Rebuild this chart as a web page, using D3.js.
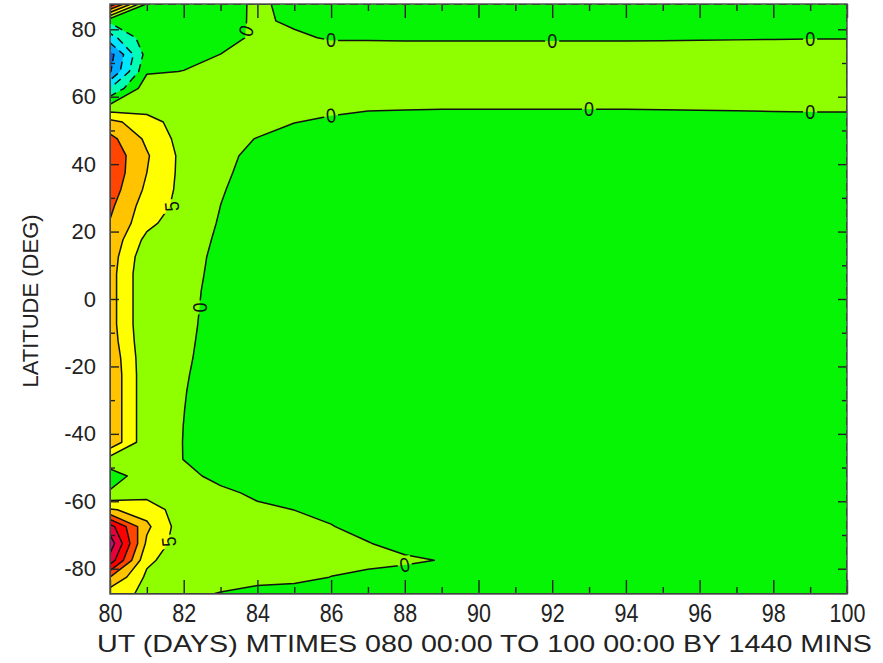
<!DOCTYPE html>
<html><head><meta charset="utf-8">
<script src="https://cdn.jsdelivr.net/npm/d3@7"></script>
<style>body{margin:0;background:#fff;} svg{display:block;}</style>
</head><body>
<svg id="chart" width="883" height="663"></svg>
<script>
// ---- data ----
const days = [80,81,82,83,84,85,86,87,88,89,90,91,92,93,94,95,96,97,98,99,100];
const lats = [87.5,82.5,77.5,72.5,67.5,62.5,57.5,52.5,47.5,42.5,37.5,32.5,27.5,22.5,17.5,12.5,7.5,2.5,
              -2.5,-7.5,-12.5,-17.5,-22.5,-27.5,-32.5,-37.5,-42.5,-47.5,-52.5,-57.5,-62.5,-67.5,-72.5,-77.5,-82.5,-87.5];
// one row per latitude (north to south), one value per day 80..100
const values = [
 [24,-0.5,-2,-1.5,0.6,-1,-2,-2,-2,-2,-2,-2,-2,-2,-2,-2,-2,-2,-2,-2,-2],
 [-4,-1.5,-1.5,-1.2,0.5,-0.5,-1.5,-1.5,-1.5,-1.5,-1.5,-1.5,-1.5,-1.5,-1.5,-1.5,-1.5,-1.5,-1.5,-1.5,-1.5],
 [-12,-2,-1.8,-2,1,0.5,-0.3,-0.3,-0.4,-0.4,-0.4,-0.4,-0.4,-0.4,-0.4,-0.35,-0.3,-0.25,-0.2,-0.15,-0.15],
 [-22,-3,-1.5,0.05,2,2,1.6,1.6,1.6,1.6,1.6,1.6,1.6,1.6,1.6,1.65,1.7,1.7,1.75,1.8,1.8],
 [-20.5,-0.6,0.1,1.5,2.5,2.8,2.8,2.8,2.8,2.8,2.8,2.8,2.8,2.8,2.8,2.8,2.8,2.8,2.8,2.8,2.8],
 [-10,3,2.5,2.5,3,3,3,3,3,3,3,3,3,3,3,3,3,3,3,3,3],
 [0.5,2.5,2.5,2.5,2.5,1,0.5,0.7,0.8,0.8,0.8,0.8,0.8,0.8,0.8,0.75,0.7,0.65,0.6,0.6,0.6],
 [11.5,7,2.5,2,1,0.05,-0.3,-1.3,-2,-2.5,-2.5,-2.5,-2.5,-2.5,-2.5,-2,-1.6,-1.3,-1,-0.85,-0.85],
 [16.5,9,3,1,-0.1,-0.8,-1.5,-2.5,-3,-3,-3,-3,-3,-3,-3,-3,-3,-3,-3,-3,-3],
 [18.5,10.5,3.5,1,-1,-1.8,-2.2,-2.5,-3,-3,-3,-3,-3,-3,-3,-3,-3,-3,-3,-3,-3],
 [18.5,10,3.5,0.6,-1.2,-2,-2.5,-3,-3,-3,-3,-3,-3,-3,-3,-3,-3,-3,-3,-3,-3],
 [17.5,9,3.5,0.25,-1.4,-2,-2.5,-3,-3,-3,-3,-3,-3,-3,-3,-3,-3,-3,-3,-3,-3],
 [16,7.5,3.5,-0.02,-1.5,-2,-2.5,-3,-3,-3,-3,-3,-3,-3,-3,-3,-3,-3,-3,-3,-3],
 [14.7,6.5,1.5,-0.2,-1.6,-2,-2.5,-3,-3,-3,-3,-3,-3,-3,-3,-3,-3,-3,-3,-3,-3],
 [13.5,3.5,1.2,-0.4,-1.7,-2.2,-2.5,-3,-3,-3,-3,-3,-3,-3,-3,-3,-3,-3,-3,-3,-3],
 [12.5,1.5,1,-0.6,-1.8,-2.2,-2.5,-3,-3,-3,-3,-3,-3,-3,-3,-3,-3,-3,-3,-3,-3],
 [12,0.8,1,-0.8,-1.9,-2.3,-2.5,-3,-3,-3,-3,-3,-3,-3,-3,-3,-3,-3,-3,-3,-3],
 [12,0.8,1,-1.1,-2,-2.3,-2.5,-3,-3,-3,-3,-3,-3,-3,-3,-3,-3,-3,-3,-3,-3],
 [12,0.8,0.9,-1.2,-2,-2.3,-2.5,-3,-3,-3,-3,-3,-3,-3,-3,-3,-3,-3,-3,-3,-3],
 [12,0.8,0.8,-1.3,-2,-2.3,-2.5,-3,-3,-3,-3,-3,-3,-3,-3,-3,-3,-3,-3,-3,-3],
 [12.5,1.1,0.7,-1.5,-2.1,-2.3,-2.5,-3,-3,-3,-3,-3,-3,-3,-3,-3,-3,-3,-3,-3,-3],
 [13.5,1.4,0.5,-1.5,-2.1,-2.3,-2.5,-3,-3,-3,-3,-3,-3,-3,-3,-3,-3,-3,-3,-3,-3],
 [14,1.5,0.3,-1.6,-2.2,-2.3,-2.5,-3,-3,-3,-3,-3,-3,-3,-3,-3,-3,-3,-3,-3,-3],
 [14,1.5,0.15,-1.7,-2.2,-2.3,-2.5,-3,-3,-3,-3,-3,-3,-3,-3,-3,-3,-3,-3,-3,-3],
 [14,1.5,0.05,-1.7,-2.2,-2.3,-2.5,-3,-3,-3,-3,-3,-3,-3,-3,-3,-3,-3,-3,-3,-3],
 [14,1.5,-0.02,-1.7,-2.2,-2.3,-2.5,-3,-3,-3,-3,-3,-3,-3,-3,-3,-3,-3,-3,-3,-3],
 [14,1.5,-0.05,-1.7,-2.2,-2.3,-2.5,-3,-3,-3,-3,-3,-3,-3,-3,-3,-3,-3,-3,-3,-3],
 [3,2,-0.05,-1.5,-2,-2.3,-2.5,-2.5,-2.5,-2.5,-2.5,-2.5,-2.5,-2.5,-2.5,-2.5,-2.5,-2.5,-2.5,-2.5,-2.5],
 [-2.2,2.5,0.8,-0.8,-1.5,-2,-2,-2,-2,-2,-2,-2,-2,-2,-2,-2,-2,-2,-2,-2,-2],
 [0.5,3,2.5,0.6,-0.5,-1.2,-1.8,-1.8,-1.8,-1.8,-1.8,-1.8,-1.8,-1.8,-1.8,-1.8,-1.8,-1.8,-1.8,-1.8,-1.8],
 [10.5,8,2,1,0.5,-0.02,-0.6,-1.2,-1.5,-1.5,-1.5,-1.5,-1.5,-1.5,-1.5,-1.5,-1.5,-1.5,-1.5,-1.5,-1.5],
 [27,11,2,1.5,1,0.8,0.1,-0.8,-1.2,-1.5,-1.5,-1.5,-1.5,-1.5,-1.5,-1.5,-1.5,-1.5,-1.5,-1.5,-1.5],
 [33,9,2,1.5,1.2,1.2,1,0.1,-0.8,-1.3,-1.3,-1.3,-1.3,-1.3,-1.3,-1.3,-1.3,-1.3,-1.3,-1.3,-1.3],
 [28,6,2,1.5,1.5,1.5,1,0.8,0.4,-0.1,-1,-1,-1,-1,-1,-1,-1,-1,-1,-1,-1],
 [15,4,2,1.5,1,0.9,-0.05,-0.7,-1,-1.2,-1.2,-1.2,-1.2,-1.2,-1.2,-1.2,-1.2,-1.2,-1.2,-1.2,-1.2],
 [7,4,0.8,-0.2,-1,-1.5,-1.5,-1.5,-1.5,-1.5,-1.5,-1.5,-1.5,-1.5,-1.5,-1.5,-1.5,-1.5,-1.5,-1.5,-1.5]
];
const levels = [-20,-15,-10,-5,0,5,10,15,20,25,30,35];
const bandColors = ["#0064ff","#00a8ff","#00e6ff","#00ffb4","#05f505","#8fff00","#ffff00","#ffc300","#ff4500","#ff0000","#e8003a","#d4007f","#7a0050"];
const xTickLabels = [80,82,84,86,88,90,92,94,96,98,100];
const xMinor = [81,83,85,87,89,91,93,95,97,99];
const yTickLabels = [-80,-60,-40,-20,0,20,40,60,80];
const yMinor = [-70,-50,-30,-10,10,30,50,70];
const labelText = ["0","0","0","0","0","0","0","5","0","5","0"];
const labelDay  = [83.7,86,92,99,86,93,99,81.68,82.43,81.6,88.0];
const labelLat  = [79.5,76.7,76.5,77.1,54.4,56.3,55.4,27.5,-2.5,-72,-78.9];
const labelAngle= [-70,0,0,0,-6,0,0,-95,90,-95,-12];
const xTitle = "UT (DAYS) MTIMES 080 00:00 TO 100 00:00 BY 1440 MINS";
const yTitle = "LATITUDE (DEG)";

// ---- layout ----
const P = {l:110, r:847, t:4, b:594};
const svg = d3.select("#chart");
const x = d3.scaleLinear().domain([80,100]).range([P.l,P.r]);
const y = d3.scaleLinear().domain([-87.5,87.5]).range([P.b,P.t]);
const n = days.length, m = lats.length;
const gx = d3.scaleLinear().domain([0,n-1]).range([days[0],days[n-1]]).clamp(true);
const gy = d3.scaleLinear().domain([0,m-1]).range([lats[0],lats[m-1]]).clamp(true);
const proj = d3.geoTransform({point(px,py){ this.stream.point(x(gx(px-0.5)), y(gy(py-0.5))); }});
const path = d3.geoPath(proj);
const flat = values.flat();
const contours = d3.contours().size([n,m]).thresholds(levels)(flat);
const FONT = "'Liberation Sans',Arial,Helvetica,sans-serif";

const defs = svg.append("defs");
defs.append("clipPath").attr("id","clip").append("rect")
  .attr("x",P.l).attr("y",P.t).attr("width",P.r-P.l).attr("height",P.b-P.t);
const mask = defs.append("mask").attr("id","lblmask").attr("maskUnits","userSpaceOnUse")
  .attr("x",0).attr("y",0).attr("width",883).attr("height",663);
mask.append("rect").attr("x",0).attr("y",0).attr("width",883).attr("height",663).attr("fill","#fff");
labelText.forEach((t,i)=>{
  mask.append("rect").attr("x",-7).attr("y",-9).attr("width",14).attr("height",18).attr("fill","#000")
    .attr("transform",`translate(${x(labelDay[i])},${y(labelLat[i])}) rotate(${labelAngle[i]})`);
});

const g = svg.append("g").attr("clip-path","url(#clip)");
g.append("rect").attr("x",P.l).attr("y",P.t).attr("width",P.r-P.l).attr("height",P.b-P.t).attr("fill",bandColors[0]);
g.selectAll("path.band").data(contours).join("path").attr("class","band")
  .attr("d",path).attr("fill",(d,i)=>bandColors[i+1]).attr("fill-rule","evenodd").attr("stroke","none");
const lines = g.append("g").attr("mask","url(#lblmask)");
lines.selectAll("path").data(contours).join("path")
  .attr("d",path).attr("fill","none").attr("stroke","#111").attr("stroke-width",1.5)
  .attr("stroke-linejoin","round")
  .attr("stroke-dasharray",d=>d.value<0?"8,5":null);

// contour labels
labelText.forEach((t,i)=>{
  svg.append("text").text(t)
    .attr("transform",`translate(${x(labelDay[i])},${y(labelLat[i])}) rotate(${labelAngle[i]}) scale(0.9,1)`)
    .attr("text-anchor","middle").attr("dominant-baseline","central")
    .attr("font-family",FONT).attr("font-size",20).attr("fill","#111");
});

// ticks (inside)
const tickCol = "#222";
function ax(gen, tr){ const a = svg.append("g").attr("transform",tr).call(gen); a.select(".domain").remove(); a.selectAll("line").attr("stroke",tickCol).attr("stroke-width",1.4); return a; }
const xb = ax(d3.axisBottom(x).tickValues(xTickLabels).tickSize(-14).tickPadding(9).tickFormat(d=>String(d)), `translate(0,${P.b})`);
xb.selectAll("text").attr("font-family",FONT).attr("font-size",25).attr("fill","#222").attr("dy","0.76em")
  .attr("transform","scale(0.86,1)");
ax(d3.axisBottom(x).tickValues(xMinor).tickSize(-7).tickFormat(""), `translate(0,${P.b})`);
ax(d3.axisTop(x).tickValues(xTickLabels).tickSize(-14).tickFormat(""), `translate(0,${P.t})`);
ax(d3.axisTop(x).tickValues(xMinor).tickSize(-7).tickFormat(""), `translate(0,${P.t})`);
const yl = ax(d3.axisLeft(y).tickValues(yTickLabels).tickSize(-9).tickPadding(14).tickFormat(d=>String(d)), `translate(${P.l},0)`);
yl.selectAll("text").attr("font-family",FONT).attr("font-size",22).attr("fill","#222");
ax(d3.axisLeft(y).tickValues(yMinor).tickSize(-5).tickFormat(""), `translate(${P.l},0)`);
ax(d3.axisRight(y).tickValues(yTickLabels).tickSize(-9).tickFormat(""), `translate(${P.r},0)`);
ax(d3.axisRight(y).tickValues(yMinor).tickSize(-5).tickFormat(""), `translate(${P.r},0)`);

// frame
svg.append("rect").attr("x",P.l).attr("y",P.t).attr("width",P.r-P.l).attr("height",P.b-P.t)
  .attr("fill","none").attr("stroke","#555").attr("stroke-width",1.5);

// titles
svg.append("text").text(xTitle).attr("x",97).attr("y",652)
  .attr("textLength",775).attr("lengthAdjust","spacingAndGlyphs")
  .attr("font-family",FONT).attr("font-size",24).attr("fill","#222");
svg.append("text").text(yTitle).attr("transform","translate(38,301) rotate(-90)")
  .attr("text-anchor","middle").attr("font-family",FONT)
  .attr("font-size",22).attr("fill","#222");
</script>
</body></html>
